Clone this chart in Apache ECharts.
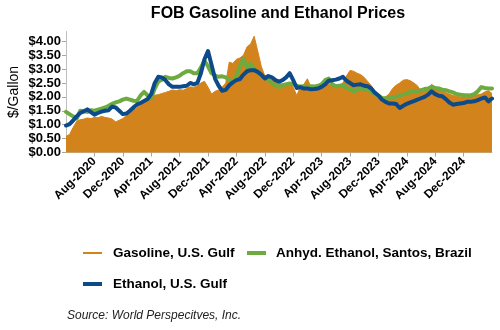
<!DOCTYPE html>
<html><head><meta charset="utf-8">
<script src="https://cdn.jsdelivr.net/npm/echarts@6/dist/echarts.min.js"></script>
<style>html,body{margin:0;padding:0;background:#fff}#c{width:500px;height:330px}</style>
</head><body><div id="c"></div>
<script>
// Semi-monthly observations from 2020-04-01 to 2025-04-01 (121 points)
const monthNames = ['Jan','Feb','Mar','Apr','May','Jun','Jul','Aug','Sep','Oct','Nov','Dec'];
const dates = [];
for (let i = 0; i <= 120; i++) {
  const mIdx = 3 + Math.floor(i / 2);
  const y = 2020 + Math.floor(mIdx / 12);
  const mo = mIdx % 12;
  dates.push(y + '-' + String(mo + 1).padStart(2, '0') + '-' + (i % 2 ? '15' : '01'));
}
const tickLabels = ['Aug-2020','Dec-2020','Apr-2021','Aug-2021','Dec-2021','Apr-2022','Aug-2022',
  'Dec-2022','Apr-2023','Aug-2023','Dec-2023','Apr-2024','Aug-2024','Dec-2024'];

const gasoline = [
  0.58,0.65,0.90,1.12,1.18,1.20,1.24,1.22,1.26,1.25,1.30,1.26,1.24,1.20,1.10,1.16,
  1.22,1.33,1.42,1.52,1.60,1.70,1.80,1.90,1.98,2.06,2.08,2.12,2.16,2.20,2.25,2.22,
  2.26,2.24,2.30,2.36,2.34,2.40,2.50,2.56,2.35,2.10,2.20,2.25,2.35,2.50,3.25,3.20,
  3.35,3.40,3.50,3.80,3.90,4.18,3.65,3.10,2.75,2.65,2.60,2.55,2.50,2.45,2.50,2.45,
  2.35,2.05,2.35,2.45,2.65,2.35,2.40,2.38,2.45,2.40,2.45,2.45,2.35,2.40,2.50,2.75,
  2.95,2.92,2.85,2.80,2.70,2.55,2.40,2.20,2.05,1.95,2.00,2.10,2.30,2.42,2.50,2.60,
  2.62,2.58,2.50,2.40,2.20,2.20,2.30,2.45,2.35,2.25,2.20,2.15,2.10,2.05,2.02,2.00,
  2.00,2.02,2.05,2.05,2.08,2.10,2.18,2.22,2.12
];
const anhydSantos = [
  1.46,1.38,1.30,1.22,1.50,1.48,1.46,1.52,1.50,1.54,1.58,1.62,1.68,1.75,1.80,1.84,
  1.90,1.94,1.90,1.86,1.85,2.05,2.18,2.05,1.95,2.30,2.55,2.62,2.72,2.68,2.66,2.70,
  2.76,2.85,2.92,2.92,2.85,2.85,3.05,3.30,3.10,2.85,2.76,2.72,2.74,2.70,2.60,2.52,
  2.75,3.10,3.38,3.05,3.20,3.00,2.88,2.75,2.72,2.62,2.50,2.40,2.36,2.42,2.45,2.48,
  2.45,2.40,2.37,2.38,2.36,2.38,2.37,2.40,2.45,2.60,2.66,2.45,2.38,2.40,2.42,2.32,
  2.28,2.20,2.25,2.30,2.28,2.25,2.20,2.10,2.04,1.96,1.95,1.94,1.98,2.00,2.05,2.08,
  2.12,2.18,2.20,2.20,2.24,2.28,2.30,2.36,2.32,2.30,2.26,2.24,2.20,2.16,2.10,2.08,
  2.06,2.06,2.05,2.10,2.20,2.35,2.32,2.30,2.30
];
const ethanolGulf = [
  0.97,1.02,1.15,1.30,1.42,1.48,1.55,1.45,1.36,1.42,1.47,1.50,1.52,1.65,1.62,1.50,
  1.38,1.40,1.50,1.62,1.72,1.78,1.85,1.92,2.10,2.50,2.72,2.70,2.60,2.45,2.36,2.36,
  2.36,2.38,2.40,2.50,2.45,2.50,2.85,3.35,3.65,3.15,2.65,2.40,2.22,2.25,2.42,2.52,
  2.60,2.64,2.80,2.92,2.96,2.96,2.90,2.80,2.66,2.75,2.70,2.60,2.55,2.60,2.70,2.85,
  2.60,2.32,2.35,2.30,2.30,2.27,2.28,2.30,2.36,2.45,2.58,2.60,2.62,2.66,2.72,2.58,
  2.50,2.42,2.44,2.45,2.40,2.38,2.30,2.15,2.05,1.90,1.82,1.76,1.76,1.74,1.60,1.68,
  1.75,1.80,1.85,1.90,1.95,2.00,2.08,2.20,2.10,2.04,2.02,1.92,1.80,1.72,1.74,1.76,
  1.78,1.82,1.82,1.84,1.88,1.94,1.98,1.84,1.94
];
const yTicks = [0, 0.5, 1, 1.5, 2, 2.5, 3, 3.5, 4];

const ORANGE = '#D3831B', GREEN = '#6DAA3F', BLUE = '#0D4A89';
const FONT = '"Liberation Sans", Arial, sans-serif';

function monthLabel(d) { const p = d.split('-'); return monthNames[+p[1] - 1] + '-' + p[0]; }
function isTick(i, d) { return d.endsWith('-01') && tickLabels.indexOf(monthLabel(d)) >= 0; }

const legendText = { fontFamily: FONT, fontSize: 13.5, fontWeight: 'bold', color: '#000', padding: [0, 0, 0, 6] };

const chart = echarts.init(document.getElementById('c'), null, { renderer: 'canvas' });
chart.setOption({
  animation: false,
  backgroundColor: '#fff',
  textStyle: { fontFamily: FONT },
  graphic: [
    { type: 'text', x: 278, y: 6, style: { text: 'FOB Gasoline and Ethanol Prices', font: 'bold 16px ' + FONT, fill: '#000', textAlign: 'center' } },
    { type: 'text', x: 67, y: 310, style: { text: 'Source: World Perspecitves, Inc.', font: 'italic 12px ' + FONT, fill: '#222', textAlign: 'left' } }
  ],
  grid: { left: 66, right: 8, top: 31.5, bottom: 330 - 152.5, containLabel: false, outerBoundsMode: 'none' },
  legend: [
    { data: ['Gasoline, U.S. Gulf'], left: 83, top: 246, padding: 0, icon: 'rect', itemWidth: 19, itemHeight: 2, textStyle: legendText },
    { data: ['Anhyd. Ethanol, Santos, Brazil'], left: 247, top: 246, padding: 0, icon: 'rect', itemWidth: 19, itemHeight: 4,
      textStyle: Object.assign({}, legendText, { padding: [0, 0, 0, 5] }) },
    { data: ['Ethanol, U.S. Gulf'], left: 83, top: 277, padding: 0, icon: 'rect', itemWidth: 19, itemHeight: 4, textStyle: legendText }
  ],
  xAxis: {
    type: 'category', data: dates, boundaryGap: false,
    axisLine: { lineStyle: { color: '#BFBFBF', width: 1 } },
    axisTick: { show: true, length: 4, interval: isTick, lineStyle: { color: '#A6A6A6' } },
    axisLabel: { interval: isTick, rotate: 45, margin: 7, fontFamily: FONT, fontSize: 12, fontWeight: 'bold', color: '#000',
      formatter: v => monthLabel(v) },
    splitLine: { show: false }
  },
  yAxis: {
    type: 'value', min: 0, max: 4.35, interval: 0.5,
    name: '$/Gallon', nameLocation: 'middle', nameGap: 45, nameMoveOverlap: false,
    nameTextStyle: { fontFamily: FONT, fontSize: 14, color: '#000' },
    axisLine: { show: true, lineStyle: { color: '#BFBFBF', width: 1 } },
    axisTick: { show: true, length: 4, lineStyle: { color: '#A6A6A6' } },
    axisLabel: { showMaxLabel: false, margin: 5, fontFamily: FONT, fontSize: 13, fontWeight: 'bold', color: '#000',
      formatter: v => (yTicks.indexOf(+v.toFixed(2)) >= 0 ? '$' + v.toFixed(2) : '') },
    splitLine: { show: false }
  },
  series: [
    { name: 'Gasoline, U.S. Gulf', type: 'line', data: gasoline, symbol: 'none', color: ORANGE,
      lineStyle: { width: 1, color: ORANGE }, areaStyle: { color: ORANGE, opacity: 1 }, z: 1 },
    { name: 'Anhyd. Ethanol, Santos, Brazil', type: 'line', data: anhydSantos, symbol: 'none', color: GREEN,
      lineStyle: { width: 4, color: GREEN, join: 'round', cap: 'round' }, z: 2 },
    { name: 'Ethanol, U.S. Gulf', type: 'line', data: ethanolGulf, symbol: 'none', color: BLUE,
      lineStyle: { width: 4, color: BLUE, join: 'round', cap: 'round' }, z: 3 }
  ]
});
</script></body></html>
